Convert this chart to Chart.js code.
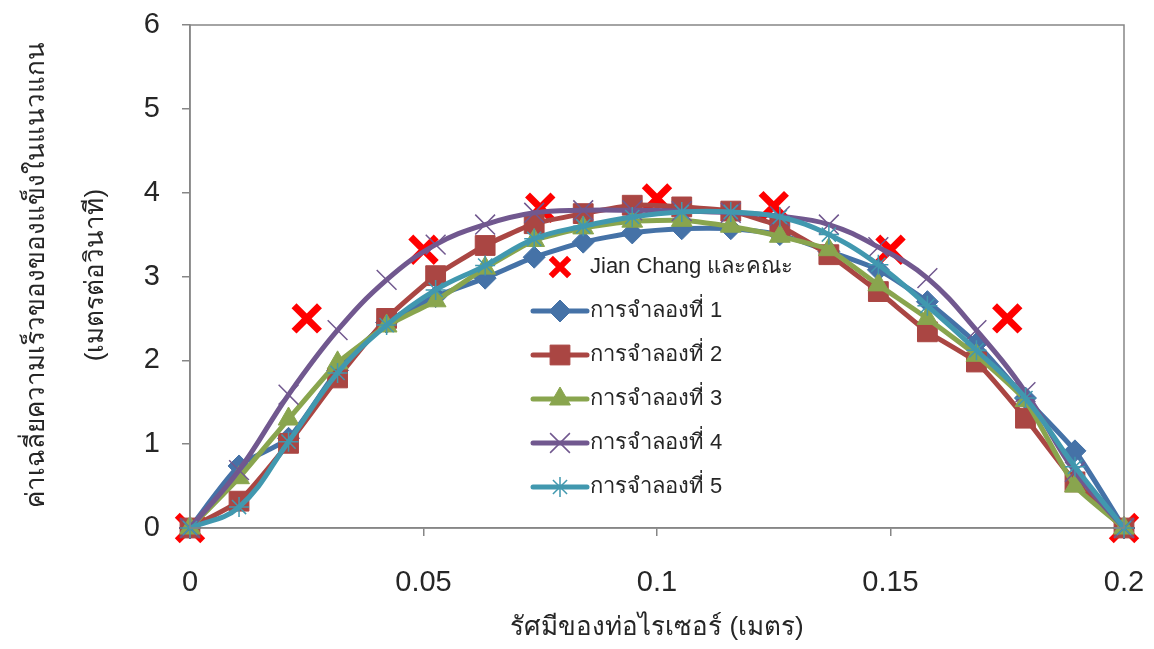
<!DOCTYPE html>
<html>
<head>
<meta charset="utf-8">
<script src="https://cdn.jsdelivr.net/npm/chart.js@4.4.1/dist/chart.umd.min.js"></script>
<style>
  html, body { margin: 0; padding: 0; background: #fff; }
  #wrap { width: 1154px; height: 649px; position: relative; }
</style>
</head>
<body>
<div id="wrap"><canvas id="radialChart" width="1154" height="649"></canvas></div>
<script>
// ตำแหน่งรัศมี (เมตร)
const radiusX = [0, 0.0105, 0.0211, 0.0316, 0.0421, 0.0526, 0.0632, 0.0737, 0.0842, 0.0947,
                 0.1053, 0.1158, 0.1263, 0.1368, 0.1474, 0.1579, 0.1684, 0.1789, 0.1895, 0.2];

// ผลการจำลอง 1-5
const sim1 = [0, 0.74, 1.07, 1.88, 2.45, 2.76, 2.98, 3.23, 3.41, 3.52, 3.57, 3.57, 3.5, 3.3, 3.08, 2.7, 2.2, 1.55, 0.92, 0];
const sim2 = [0, 0.32, 1.01, 1.79, 2.5, 3.01, 3.37, 3.63, 3.75, 3.85, 3.83, 3.78, 3.6, 3.26, 2.82, 2.34, 1.98, 1.31, 0.55, 0];
const sim3 = [0, 0.6, 1.3, 1.97, 2.41, 2.71, 3.1, 3.43, 3.58, 3.66, 3.67, 3.6, 3.48, 3.32, 2.9, 2.5, 2.06, 1.52, 0.5, 0];
const sim4 = [0, 0.69, 1.59, 2.36, 2.96, 3.38, 3.62, 3.76, 3.79, 3.79, 3.78, 3.76, 3.72, 3.62, 3.35, 2.98, 2.36, 1.62, 0.67, 0];
const sim5 = [0, 0.25, 1.03, 1.85, 2.42, 2.84, 3.13, 3.45, 3.6, 3.71, 3.77, 3.77, 3.71, 3.5, 3.14, 2.65, 2.12, 1.55, 0.73, 0];

// ข้อมูลการทดลอง Jian Chang และคณะ
const jianX = [0, 0.025, 0.05, 0.075, 0.1, 0.125, 0.15, 0.175, 0.2];
const jianY = [0, 2.5, 3.32, 3.82, 3.93, 3.84, 3.32, 2.5, 0];

const seriesLabels = ['Jian Chang และคณะ', 'การจำลองที่ 1', 'การจำลองที่ 2', 'การจำลองที่ 3', 'การจำลองที่ 4', 'การจำลองที่ 5'];
const xTicks = [0, 0.05, 0.1, 0.15, 0.2];
const yTicks = [0, 1, 2, 3, 4, 5, 6];
const xTitle = 'รัศมีของท่อไรเซอร์ (เมตร)';
const yTitle = ['ค่าเฉลี่ยความเร็วของของแข็งในแนวแกน', '(เมตรต่อวินาที)'];

const FONT = "'Liberation Sans', Arial, sans-serif";
const AXIS = '#868686';
const TEXT = '#262626';

const toPts = (xs, ys) => xs.map((x, i) => ({ x: x, y: ys[i] }));

function simSet(label, ys, color, style, r, bw, tension, order) {
  return {
    label: label, data: toPts(radiusX, ys), showLine: true,
    borderColor: color, backgroundColor: color, borderWidth: 5,
    pointStyle: style, pointRadius: r, pointBorderWidth: bw,
    pointBorderColor: color, pointBackgroundColor: color,
    tension: tension, clip: false, order: order
  };
}

const datasets = [
  {
    label: seriesLabels[0], data: toPts(jianX, jianY), showLine: false,
    pointStyle: 'crossRot', pointRadius: 18, pointBorderWidth: 7,
    borderColor: '#ff0000', backgroundColor: '#ff0000', clip: false, order: 6
  },
  simSet(seriesLabels[1], sim1, '#4572a7', 'rectRot', 11, 1, 0.2, 5),
  simSet(seriesLabels[2], sim2, '#aa4643', 'rect', 14, 1, 0.15, 4),
  simSet(seriesLabels[3], sim3, '#89a54e', 'triangle', 12, 1, 0.15, 3),
  simSet(seriesLabels[4], sim4, '#71588f', 'crossRot', 14, 1.5, 0.4, 2),
  simSet(seriesLabels[5], sim5, '#4198af', 'star', 10, 1.5, 0.4, 1)
];

// กรอบพื้นที่กราฟ + ชื่อแกน + คำอธิบายสัญลักษณ์
const decorPlugin = {
  id: 'decor',
  afterDraw(chart) {
    const ctx = chart.ctx;
    const a = chart.chartArea;
    ctx.save();
    ctx.strokeStyle = AXIS;
    ctx.lineWidth = 1.5;
    ctx.strokeRect(a.left, a.top, a.right - a.left, a.bottom - a.top);

    ctx.fillStyle = TEXT;
    ctx.font = '26px ' + FONT;
    ctx.textAlign = 'center';
    ctx.textBaseline = 'middle';
    ctx.fillText(xTitle, 657, 628);

    ctx.save();
    ctx.translate(37, 275);
    ctx.rotate(-Math.PI / 2);
    ctx.fillText(yTitle[0], 0, 0);
    ctx.restore();
    ctx.save();
    ctx.translate(96, 275);
    ctx.rotate(-Math.PI / 2);
    ctx.fillText(yTitle[1], 0, 0);
    ctx.restore();

    // legend
    const lx = 560, ly0 = 267, gap = 44;
    ctx.font = '22px ' + FONT;
    ctx.textAlign = 'left';
    chart.data.datasets.forEach((ds, i) => {
      const y = ly0 + i * gap;
      if (ds.showLine) {
        ctx.strokeStyle = ds.borderColor;
        ctx.lineWidth = 5;
        ctx.lineCap = 'round';
        ctx.beginPath();
        ctx.moveTo(lx - 27, y);
        ctx.lineTo(lx + 27, y);
        ctx.stroke();
      }
      const r = ds.showLine ? ds.pointRadius : 13;
      ctx.lineCap = 'butt';
      ctx.fillStyle = ds.borderColor;
      ctx.strokeStyle = ds.borderColor;
      ctx.lineWidth = ds.showLine ? ds.pointBorderWidth : 6;
      Chart.helpers.drawPoint(ctx, {
        pointStyle: ds.pointStyle, radius: r, rotation: 0,
        borderWidth: ctx.lineWidth
      }, lx, y);
      ctx.fillStyle = TEXT;
      ctx.fillText(ds.label, lx + 30, y);
    });
    ctx.restore();
  }
};

new Chart(document.getElementById('radialChart'), {
  type: 'scatter',
  data: { datasets: datasets },
  options: {
    responsive: false,
    animation: false,
    layout: { autoPadding: false, padding: { left: 0, top: 25, right: 30, bottom: 0 } },
    plugins: { legend: { display: false }, tooltip: { enabled: false } },
    scales: {
      x: {
        type: 'linear', min: 0, max: 0.2,
        afterBuildTicks: s => { s.ticks = xTicks.map(v => ({ value: v })); },
        afterFit: s => { s.height = 121; s.paddingLeft = 0; s.paddingRight = 0; },
        ticks: {
          color: TEXT, font: { size: 29, family: FONT }, padding: 30,
          callback: v => String(+v.toFixed(2))
        },
        grid: { drawOnChartArea: false, tickLength: 8, color: AXIS, lineWidth: 1.5 },
        border: { color: AXIS, width: 1.5 }
      },
      y: {
        min: 0, max: 6,
        afterBuildTicks: s => { s.ticks = yTicks.map(v => ({ value: v })); },
        afterFit: s => { s.width = 190; s.paddingTop = 0; s.paddingBottom = 0; },
        ticks: { color: TEXT, font: { size: 29, family: FONT }, padding: 22 },
        grid: { drawOnChartArea: false, tickLength: 8, color: AXIS, lineWidth: 1.5 },
        border: { color: AXIS, width: 1.5 }
      }
    }
  },
  plugins: [decorPlugin]
});
</script>
</body>
</html>
